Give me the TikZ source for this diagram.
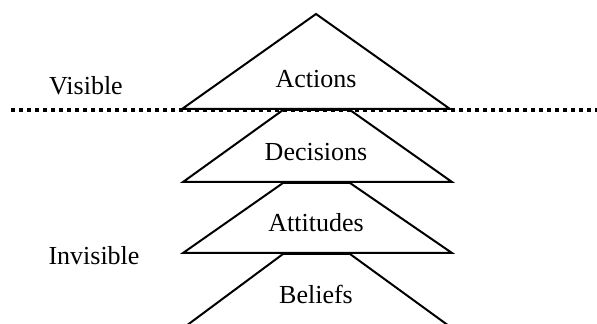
\documentclass[tikz,border=0pt]{standalone}
\usepackage{fontspec}
\setmainfont{Liberation Serif}
\usetikzlibrary{calc}

\begin{document}
\begin{tikzpicture}[x=0.5pt, y=-0.5pt, line width=1pt, line join=miter,
    lbl/.style={inner sep=0pt, font=\fontsize{13}{15}\selectfont}]
      \useasboundingbox (0,0) rectangle (597,324);

      \draw (316,14) -- (450,109) -- (182,109) -- cycle;
      \draw (283,110) -- (350,110) -- (452,182) -- (183,182) -- cycle;
      \draw (283,183) -- (350,183) -- (452,253) -- (183,253) -- cycle;
      \draw (186,326) -- (283,254) -- (350,254) -- (449,326);

      \draw[line width=2pt, dash pattern=on 2pt off 2pt] (11,110) -- (597,110);

      \node[lbl] (actions) at (316,79) {Actions};
      \node[lbl] (decisions) at (316,152) {Decisions};
      \node[lbl] (attitudes) at (316,223) {Attitudes};
      \node[lbl] (beliefs) at (316,294) {Beliefs};

      \node[lbl] (visible) at (86,86) {Visible};
      \node[lbl] (invisible) at (94,256) {Invisible};
    \end{tikzpicture}
\end{document}
